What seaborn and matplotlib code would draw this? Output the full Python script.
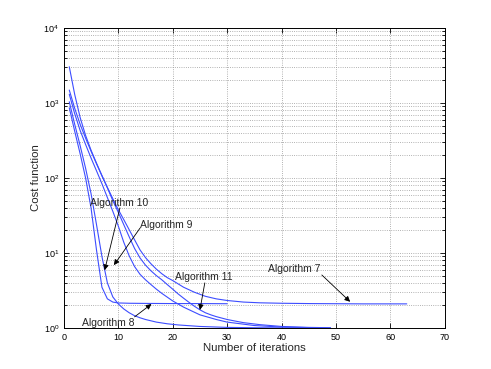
import numpy as np
import pandas as pd
import matplotlib
matplotlib.use('Agg')
import matplotlib.pyplot as plt
import seaborn as sns

# cost per iteration
x_alg7 = [1, 2, 3, 4, 5, 6, 7, 8, 9, 10, 11, 12, 13, 14, 15, 16, 17, 18, 19, 20,
          22, 24, 26, 28, 30, 33, 36, 40, 45, 50, 55, 63]
y_alg7 = [3050, 1300, 640, 370, 235, 158, 108, 75, 53, 38, 28, 20.5, 15, 11, 8.7, 7.2,
          6.1, 5.3, 4.7, 4.3, 3.5, 3.0, 2.65, 2.45, 2.33, 2.22, 2.17, 2.14, 2.12,
          2.11, 2.1, 2.1]

x_alg8 = [1, 2, 3, 4, 5, 6, 7, 8, 9, 10, 12, 15, 20, 25, 30]
y_alg8 = [865, 420, 210, 100, 40, 11, 3.5, 2.45, 2.22, 2.16, 2.14, 2.13, 2.12, 2.12, 2.11]

x_alg9 = [1, 2, 3, 4, 5, 6, 7, 8, 9, 10, 11, 12, 13, 14, 15, 16, 17, 18, 20, 22, 25,
          28, 30, 35, 40, 49]
y_alg9 = [1310, 720, 430, 280, 185, 125, 84, 55, 36, 23, 14, 9.2, 6.6, 5.2, 4.4, 3.8,
          3.3, 2.9, 2.3, 1.9, 1.5, 1.3, 1.2, 1.08, 1.03, 1.0]

x_alg10 = [1, 2, 3, 4, 5, 6, 7, 8, 9, 10, 11, 12, 13, 14, 15, 17, 19, 21, 25, 30, 35, 45]
y_alg10 = [1040, 520, 270, 135, 62, 24, 9, 4.0, 2.6, 2.1, 1.8, 1.6, 1.46, 1.37, 1.3,
           1.2, 1.14, 1.1, 1.05, 1.02, 1.01, 1.0]

x_alg11 = [1, 2, 3, 4, 5, 6, 7, 8, 9, 10, 11, 12, 13, 14, 15, 16, 17, 18, 19, 20, 21,
           22, 23, 24, 25, 26, 27, 28, 30, 33, 36, 40, 45, 49]
y_alg11 = [1490, 850, 520, 340, 228, 155, 107, 74, 50, 35, 24, 16.5, 11.5, 8.6, 6.9, 5.8,
           5.0, 4.4, 3.8, 3.3, 2.85, 2.5, 2.2, 1.95, 1.75, 1.6, 1.5, 1.42, 1.3, 1.18,
           1.11, 1.05, 1.02, 1.01]

curves = {
    'Algorithm 7': (x_alg7, y_alg7),
    'Algorithm 8': (x_alg8, y_alg8),
    'Algorithm 9': (x_alg9, y_alg9),
    'Algorithm 10': (x_alg10, y_alg10),
    'Algorithm 11': (x_alg11, y_alg11),
}

# label text position, arrow start, arrow tip (data coords)
notes = [
    ('Algorithm 10', (4.8, 46), (10.3, 40), (7.5, 5.9)),
    ('Algorithm 9', (14.0, 24), (14.0, 21.5), (9.2, 6.9)),
    ('Algorithm 11', (20.4, 4.8), (25.9, 4.0), (25.0, 1.74)),
    ('Algorithm 7', (37.5, 6.1), (47.4, 5.1), (52.6, 2.24)),
    ('Algorithm 8', (3.3, 1.18), (13.0, 1.41), (16.1, 2.09)),
]

sns.set_style('ticks')
plt.rcParams['font.family'] = ['Liberation Sans', 'DejaVu Sans']

fig = plt.figure(figsize=(4.91, 3.69), dpi=100)
ax = fig.add_axes([0.130, 0.111, 0.776, 0.813])

for name, (xs, ys) in curves.items():
    df = pd.DataFrame({'it': xs, 'cost': ys})
    sns.lineplot(data=df, x='it', y='cost', ax=ax, color='#3d4dff', lw=0.8,
                 estimator=None, sort=False)

ax.set_yscale('log')
ax.set_xlim(0, 70)
ax.set_ylim(1, 1e4)
ax.set_xticks(range(0, 71, 10))

ax.xaxis.grid(True, which='major', linestyle=':', color='0.6', lw=0.6)
ax.yaxis.grid(True, which='both', linestyle=':', color='0.6', lw=0.6)
ax.tick_params(which='both', direction='in', top=True, right=True,
               labelsize=6.5, colors='k', width=0.6)
ax.tick_params(which='major', length=3.5)
ax.tick_params(which='minor', length=2)
for s in ax.spines.values():
    s.set_color('k')
    s.set_linewidth(0.7)

ax.set_xlabel('Number of iterations', fontsize=8.2, labelpad=1)
ax.set_ylabel('Cost function', fontsize=8.2, labelpad=2)

for txt, tpos, astart, tip in notes:
    ax.text(tpos[0], tpos[1], txt, fontsize=7.5, ha='left', va='center')
    ax.annotate('', xy=tip, xytext=astart,
                arrowprops=dict(arrowstyle='-|>', color='k', lw=0.6,
                                mutation_scale=8, shrinkA=0, shrinkB=0))

fig.savefig('out.png', dpi=100)
